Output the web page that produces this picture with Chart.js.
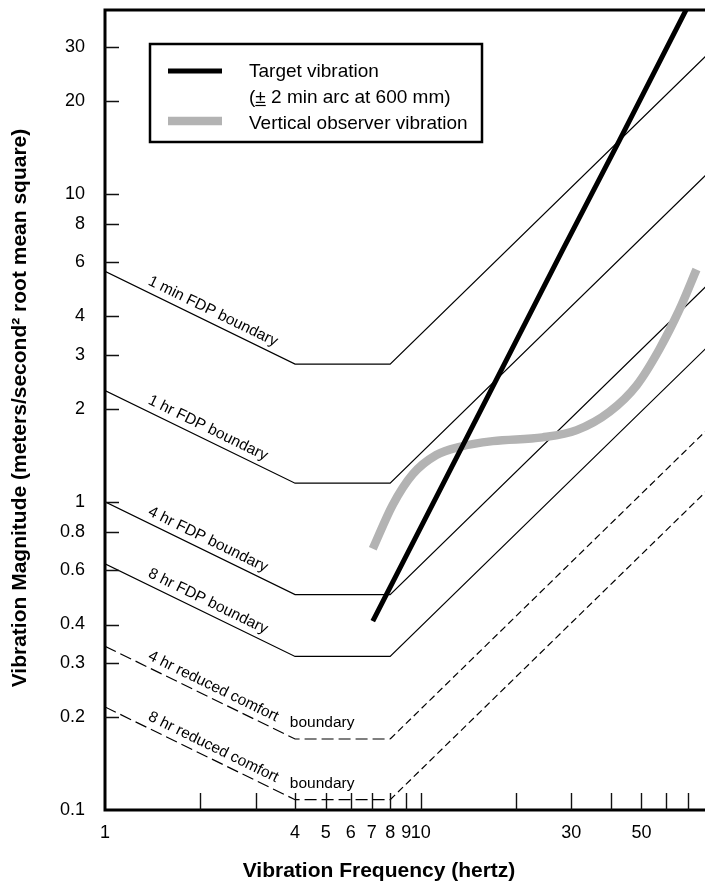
<!DOCTYPE html>
<html>
<head>
<meta charset="utf-8">
<script src="https://cdn.jsdelivr.net/npm/chart.js@4.4.0/dist/chart.umd.min.js"></script>
<style>
html,body{margin:0;padding:0;background:#fff;}
#wrap{width:705px;height:881px;position:relative;}
</style>
</head>
<body>
<div id="wrap"><canvas id="c"></canvas></div>
<script>
const FONT = '"Liberation Sans", Arial, Helvetica, sans-serif';

// Boundary curves: frequency breakpoints (Hz) and magnitudes (m/s^2 rms)
const boundaryFreqs = [1, 4, 8, 80];
const oneMinFDP = [5.6, 2.8, 2.8, 28];
const oneHrFDP = [2.3, 1.15, 1.15, 11.5];
const fourHrFDP = [1.0, 0.5, 0.5, 5.0];
const eightHrFDP = [0.63, 0.315, 0.315, 3.15];
const fourHrComfort = [0.34, 0.17, 0.17, 1.7];
const eightHrComfort = [0.216, 0.108, 0.108, 1.08];

// Target vibration (± 2 min arc at 600 mm)
const targetFreqs = [7.05, 14, 28, 42.6, 70];
const targetVals = [0.41, 1.62, 6.5, 14.9, 40.4];

// Vertical observer vibration
const observerFreqs = [7.05, 8.15, 9.43, 11.2, 13.3, 16.9, 24.3, 31.2, 39.6, 48.3, 57.0, 66.0, 74.7];
const observerVals = [0.705, 0.978, 1.23, 1.42, 1.51, 1.575, 1.62, 1.71, 1.96, 2.39, 3.13, 4.21, 5.68];

// Ticks
const xTickMarks = [2, 3, 4, 5, 6, 7, 8, 9, 10, 20, 30, 40, 50, 60, 70];
const xTickLabels = [1, 4, 5, 6, 7, 8, 9, 10, 30, 50];
const yTickMarks = [0.2, 0.3, 0.4, 0.6, 0.8, 1, 2, 3, 4, 6, 8, 10, 20, 30];
const yTickLabels = [0.1, 0.2, 0.3, 0.4, 0.6, 0.8, 1, 2, 3, 4, 6, 8, 10, 20, 30];

const boundaryLabels = [
  '1 min FDP boundary', '1 hr FDP boundary', '4 hr FDP boundary', '8 hr FDP boundary',
  '4 hr reduced comfort', '8 hr reduced comfort'
];
const boundarySeries = [oneMinFDP, oneHrFDP, fourHrFDP, eightHrFDP, fourHrComfort, eightHrComfort];
const legendLabels = ['Target vibration', '(± 2 min arc at 600 mm)', 'Vertical observer vibration'];

function pts(xs, ys) { return xs.map((v, i) => ({x: v, y: ys[i]})); }

const datasets = [];
datasets.push({
  label: 'Target vibration', data: pts(targetFreqs, targetVals),
  borderColor: '#000', borderWidth: 5, pointRadius: 0, tension: 0, order: 0,
  borderCapStyle: 'butt'
});
datasets.push({
  label: 'Vertical observer vibration', data: pts(observerFreqs, observerVals),
  borderColor: '#b3b3b3', borderWidth: 8.5, pointRadius: 0, tension: 0.4, order: 1,
  borderCapStyle: 'butt', cubicInterpolationMode: 'monotone'
});
boundarySeries.forEach((vals, i) => {
  const dashed = i >= 4;
  const ds = {
    label: boundaryLabels[i], data: pts(boundaryFreqs, vals),
    borderColor: '#000', borderWidth: 1.2, pointRadius: 0, tension: 0, order: 2 + i,
    borderJoinStyle: 'miter'
  };
  if (dashed) {
    ds.borderDash = [12, 5];
    ds.segment = { borderDash: ctx => ctx.p0DataIndex === 2 ? [7, 4] : [12, 5] };
  }
  datasets.push(ds);
});

const decor = {
  id: 'decor',
  afterDraw(chart) {
    const {ctx, chartArea: a, scales: {x, y}} = chart;
    ctx.save();
    // axes frame (top, left, bottom)
    ctx.strokeStyle = '#000';
    ctx.lineWidth = 3;
    ctx.lineJoin = 'miter';
    ctx.beginPath();
    ctx.moveTo(a.right + 2, a.top);
    ctx.lineTo(a.left, a.top);
    ctx.lineTo(a.left, a.bottom);
    ctx.lineTo(a.right + 2, a.bottom);
    ctx.stroke();
    // inward tick marks
    ctx.lineWidth = 1.4;
    ctx.strokeStyle = '#111';
    ctx.beginPath();
    yTickMarks.forEach(v => {
      const py = Math.round(y.getPixelForValue(v)) + 0.5;
      ctx.moveTo(a.left, py); ctx.lineTo(a.left + 14, py);
    });
    xTickMarks.forEach(v => {
      const px = Math.round(x.getPixelForValue(v)) + 0.5;
      ctx.moveTo(px, a.bottom); ctx.lineTo(px, a.bottom - 17);
    });
    ctx.stroke();

    // boundary labels
    ctx.fillStyle = '#000';
    ctx.font = '15.5px ' + FONT;
    ctx.textAlign = 'left';
    ctx.textBaseline = 'alphabetic';
    boundarySeries.forEach((vals, i) => {
      const x0 = x.getPixelForValue(boundaryFreqs[0]), y0 = y.getPixelForValue(vals[0]);
      const x1 = x.getPixelForValue(boundaryFreqs[1]), y1 = y.getPixelForValue(vals[1]);
      const ang = Math.atan2(y1 - y0, x1 - x0);
      const ax = x.getPixelForValue(1.33);
      const ay = y0 + (ax - x0) * Math.tan(ang);
      ctx.save();
      ctx.translate(ax, ay);
      ctx.rotate(ang);
      ctx.fillText(boundaryLabels[i], 0, -7);
      ctx.restore();
      if (i >= 4) {
        ctx.fillText('boundary', x.getPixelForValue(3.85), y.getPixelForValue(vals[1]) - 12);
      }
    });

    // legend box
    ctx.lineWidth = 2.5;
    ctx.strokeStyle = '#000';
    ctx.strokeRect(150, 44, 332, 98);
    ctx.lineCap = 'butt';
    ctx.lineWidth = 5;
    ctx.beginPath(); ctx.moveTo(168, 71); ctx.lineTo(222, 71); ctx.stroke();
    ctx.strokeStyle = '#b3b3b3';
    ctx.lineWidth = 8.5;
    ctx.beginPath(); ctx.moveTo(168, 121); ctx.lineTo(222, 121); ctx.stroke();
    ctx.font = '19px ' + FONT;
    ctx.fillStyle = '#000';
    ctx.fillText(legendLabels[0], 249, 77);
    ctx.fillText(legendLabels[1], 249, 103);
    ctx.fillText(legendLabels[2], 249, 129);
    // underline the ± sign
    const wParen = ctx.measureText('(').width;
    const wPm = ctx.measureText('±').width;
    ctx.strokeStyle = '#000';
    ctx.lineWidth = 1.2;
    ctx.beginPath();
    ctx.moveTo(249 + wParen, 105.5); ctx.lineTo(249 + wParen + wPm, 105.5);
    ctx.stroke();

    // axis titles
    ctx.font = 'bold 21px ' + FONT;
    ctx.textAlign = 'center';
    ctx.fillText('Vibration Frequency (hertz)', 379, 877);
    ctx.save();
    ctx.translate(26, 408);
    ctx.rotate(-Math.PI / 2);
    ctx.fillText('Vibration Magnitude (meters/second² root mean square)', 0, 0);
    ctx.restore();
    ctx.restore();
  }
};

new Chart(document.getElementById('c'), {
  type: 'line',
  data: { datasets },
  options: {
    responsive: true,
    maintainAspectRatio: false,
    animation: false,
    layout: { padding: { top: 10, right: 0, bottom: 0, left: 0 } },
    plugins: { legend: { display: false }, tooltip: { enabled: false } },
    scales: {
      x: {
        type: 'logarithmic', min: 1, max: 79.5,
        grid: { display: false, drawTicks: false },
        border: { display: false },
        afterBuildTicks: s => { s.ticks = xTickLabels.map(v => ({ value: v })); },
        afterFit: s => { s.height = 71; s.paddingLeft = 0; s.paddingRight = 0; },
        ticks: {
          autoSkip: false, maxRotation: 0, minRotation: 0, padding: 12, color: '#000',
          font: { family: FONT, size: 18 }, callback: v => String(v)
        }
      },
      y: {
        type: 'logarithmic', min: 0.1, max: 39.5,
        grid: { display: false, drawTicks: false },
        border: { display: false },
        afterBuildTicks: s => { s.ticks = yTickLabels.map(v => ({ value: v })); },
        afterFit: s => { s.width = 105; s.paddingTop = 0; s.paddingBottom = 0; },
        ticks: {
          autoSkip: false, padding: 20, color: '#000',
          font: { family: FONT, size: 18 }, callback: v => String(v)
        }
      }
    }
  },
  plugins: [decor]
});
</script>
</body>
</html>
